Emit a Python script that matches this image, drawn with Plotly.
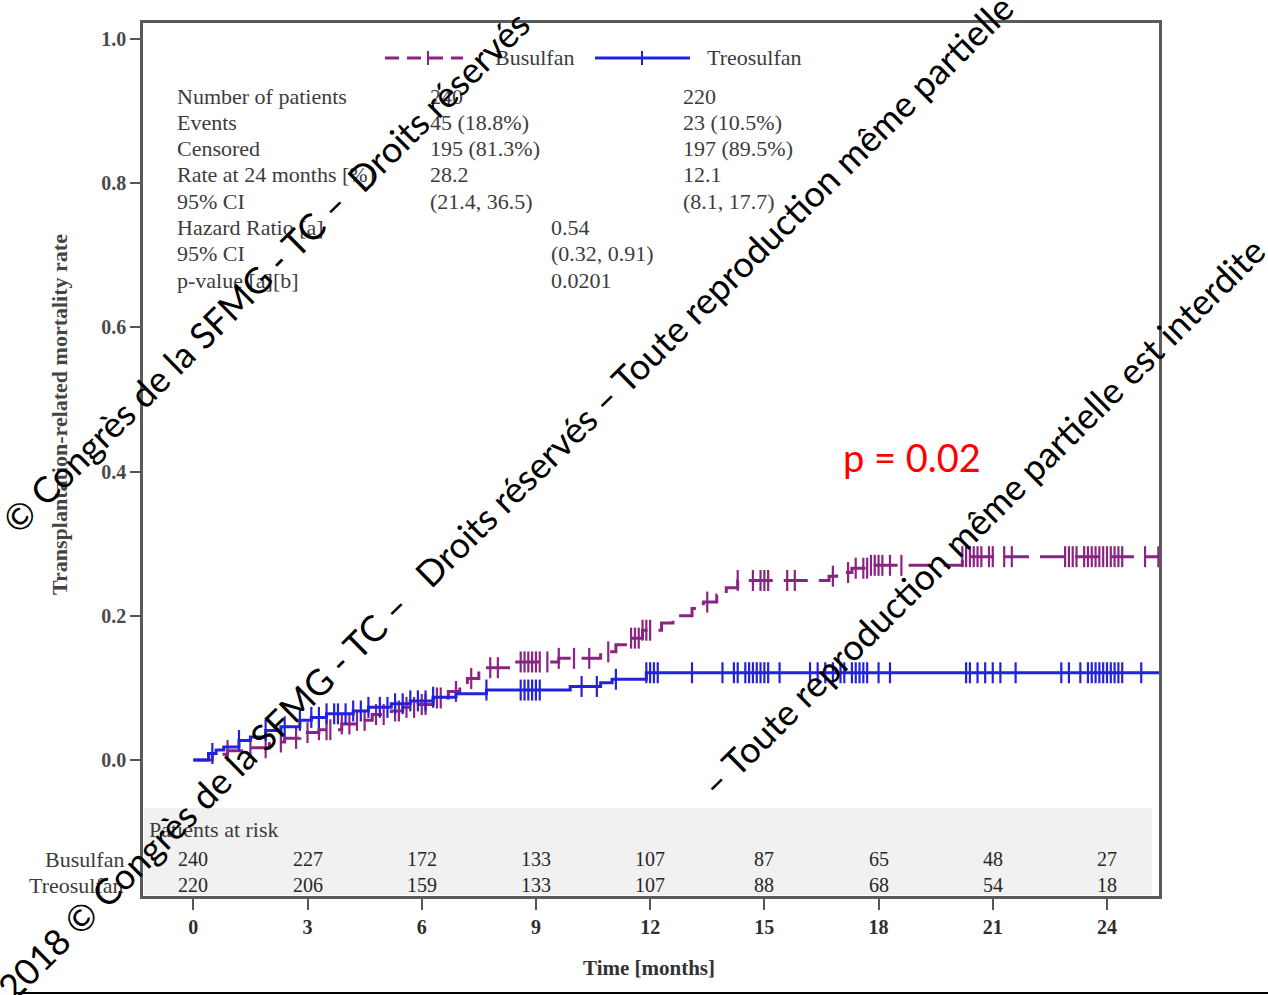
import plotly.graph_objects as go

# ---- Kaplan-Meier style cumulative incidence (transplant-related mortality) ----
months_ticks = [0, 3, 6, 9, 12, 15, 18, 21, 24]

bu_event_t = [0, 0.5, 0.9, 1.4, 2.0, 2.4, 2.8, 3.3, 3.9, 4.3, 4.7, 5.2, 5.5, 5.9, 6.3,
              6.7, 7.0, 7.2, 7.5, 8.4, 9.6, 10.7, 11.1, 11.4, 11.8, 12.3, 12.6, 13.1,
              13.4, 13.75, 14.0, 14.3, 16.7, 16.9, 17.3, 17.8, 20.2]
bu_event_v = [0, 0.008, 0.013, 0.017, 0.025, 0.030, 0.038, 0.042, 0.050, 0.055, 0.063,
              0.068, 0.073, 0.077, 0.086, 0.095, 0.104, 0.113, 0.128, 0.136, 0.141,
              0.150, 0.160, 0.169, 0.180, 0.190, 0.200, 0.210, 0.219, 0.229, 0.239,
              0.249, 0.255, 0.260, 0.266, 0.270, 0.282]
bu_censor_t = [0.9, 1.5, 1.9, 2.3, 2.7, 3.0, 3.3, 3.5, 3.6, 3.9, 4.1, 4.3, 4.5, 4.8, 5.0,
               5.3, 5.4, 5.6, 5.8, 6.0, 6.1, 6.4, 6.5, 6.9, 7.3, 7.8, 8.0, 8.6, 8.7, 8.8,
               8.9, 9.0, 9.1, 9.3, 9.6, 10.0, 10.4, 10.9, 11.5, 11.6, 11.7, 11.8, 11.9,
               12.0, 13.5, 14.3, 14.7, 14.9, 15.0, 15.1, 15.6, 15.8, 16.8, 17.2, 17.4,
               17.6, 17.7, 17.8, 17.9, 18.0, 18.1, 18.3, 18.6, 20.2, 20.3, 20.4, 20.5,
               20.6, 20.7, 20.9, 21.0, 21.3, 21.5, 22.9, 23.0, 23.1, 23.2, 23.4, 23.5,
               23.6, 23.7, 23.8, 23.9, 24.0, 24.1, 24.2, 24.3, 24.4, 25.0, 25.35]
bu_last_t = 25.4

tr_event_t = [0, 0.4, 0.6, 0.8, 1.2, 1.5, 1.9, 2.3, 2.8, 3.1, 3.5, 4.2, 4.6, 5.2, 5.7,
              6.3, 6.9, 7.7, 9.9, 10.7, 11.0, 11.9]
tr_event_v = [0, 0.009, 0.014, 0.018, 0.027, 0.032, 0.041, 0.046, 0.055, 0.059, 0.064,
              0.068, 0.073, 0.078, 0.082, 0.087, 0.092, 0.097, 0.102, 0.107, 0.112, 0.121]
tr_censor_t = [0.5, 1.2, 1.9, 2.4, 2.8, 3.1, 3.3, 3.5, 3.7, 3.8, 4.0, 4.2, 4.4, 4.6, 4.9,
               5.1, 5.3, 5.5, 5.7, 5.9, 6.1, 6.3, 7.7, 8.6, 8.7, 8.8, 8.9, 9.0, 9.1, 10.2,
               10.6, 11.1, 11.9, 12.0, 12.1, 12.2, 13.1, 13.9, 14.2, 14.3, 14.5, 14.6,
               14.7, 14.8, 14.9, 15.0, 15.1, 15.4, 16.2, 16.4, 16.6, 16.8, 17.0, 17.1,
               17.3, 17.4, 17.5, 17.6, 17.7, 18.0, 18.3, 20.3, 20.4, 20.6, 20.8, 21.0,
               21.2, 21.6, 22.8, 23.0, 23.3, 23.5, 23.6, 23.7, 23.8, 23.9, 24.0, 24.1,
               24.2, 24.3, 24.4, 24.9]
tr_last_t = 25.4

# patients at risk
risk_bu = [240, 227, 172, 133, 107, 87, 65, 48, 27]
risk_tr = [220, 206, 159, 133, 107, 88, 68, 54, 18]

# summary table
table_labels = ["Number of patients", "Events", "Censored", "Rate at 24 months [%]",
                "95% CI", "Hazard Ratio [a]", "95% CI", "p-value [a][b]"]
table_bu = ["240", "45 (18.8%)", "195 (81.3%)", "28.2", "(21.4, 36.5)", "", "", ""]
table_hr = ["", "", "", "", "", "0.54", "(0.32, 0.91)", "0.0201"]
table_tr = ["220", "23 (10.5%)", "197 (89.5%)", "12.1", "(8.1, 17.7)", "", "", ""]

BU_COL = "#8B2383"
TR_COL = "#2222DD"
SERIF = "Liberation Serif"
TXT = "#3c3c3c"

W, H = 1268, 995
L, R, T, B = 143, 109, 23, 99
PW, PH = W - L - R, H - T - B


def px(x):
    return (x - L) / PW


def py(y):
    return (H - B - y) / PH


def step_value(times, values, t):
    v = values[0]
    for ti, vi in zip(times, values):
        if ti <= t:
            v = vi
    return v


fig = go.Figure()

for ev_t, ev_v, cen_t, last_t, col, dash, name in [
    (bu_event_t, bu_event_v, bu_censor_t, bu_last_t, BU_COL, "24px,11px", "Busulfan"),
    (tr_event_t, tr_event_v, tr_censor_t, tr_last_t, TR_COL, "solid", "Treosulfan"),
]:
    fig.add_trace(go.Scatter(
        x=ev_t + [last_t], y=ev_v + [ev_v[-1]], mode="lines", name=name,
        line=dict(color=col, width=3, dash=dash, shape="hv"), showlegend=False))
    fig.add_trace(go.Scatter(
        x=cen_t, y=[step_value(ev_t, ev_v, t) for t in cen_t], mode="markers",
        marker=dict(symbol="line-ns", size=15, color=col, line=dict(color=col, width=2.2)),
        showlegend=False, name=name))

shapes = [
    # at-risk band
    dict(type="rect", xref="paper", yref="paper", x0=px(144), x1=px(1152),
         y0=py(895), y1=py(808), fillcolor="#f1f1f1", line=dict(width=0), layer="below"),
    # legend samples
    dict(type="line", xref="paper", yref="paper", x0=px(385), x1=px(463), y0=py(58), y1=py(58),
         line=dict(color=BU_COL, width=3, dash="14px,8px")),
    dict(type="line", xref="paper", yref="paper", x0=px(428), x1=px(428), y0=py(51), y1=py(65),
         line=dict(color=BU_COL, width=2)),
    dict(type="line", xref="paper", yref="paper", x0=px(595), x1=px(690), y0=py(58), y1=py(58),
         line=dict(color=TR_COL, width=3)),
    dict(type="line", xref="paper", yref="paper", x0=px(642), x1=px(642), y0=py(51), y1=py(65),
         line=dict(color=TR_COL, width=2)),
    # rule under the figure
    dict(type="line", xref="paper", yref="paper", x0=px(15), x1=px(1268), y0=py(993), y1=py(993),
         line=dict(color="#000000", width=2)),
]

ann = []


def note(text, x, y, size, xanchor="left", xref="paper", color=TXT, **kw):
    font = dict(family=kw.pop("family", SERIF), size=size, color=color)
    if "weight" in kw:
        font["weight"] = kw.pop("weight")
    ann.append(dict(text=text, x=x, y=y, xref=xref, yref="paper", showarrow=False,
                    xanchor=xanchor, yanchor="middle", font=font, **kw))


note("Busulfan", px(493), py(58), 22)
note("Treosulfan", px(705), py(58), 22)

row_y0, row_dy = 96, 26.3
for i in range(len(table_labels)):
    yy = py(row_y0 + i * row_dy)
    for txt, xx in [(table_labels[i], 175), (table_bu[i], 428), (table_hr[i], 549), (table_tr[i], 681)]:
        if txt:
            note(txt, px(xx), yy, 22)

note("Patients at risk", px(147), py(829), 22)
note("Busulfan", px(126), py(859), 22, xanchor="right")
note("Treosulfan", px(126), py(885), 22, xanchor="right")
for m, nb, nt in zip(months_ticks, risk_bu, risk_tr):
    note(str(nb), m, py(859), 20, xanchor="center", xref="x", color="#262626")
    note(str(nt), m, py(885), 20, xanchor="center", xref="x", color="#262626")

note("Transplantation-related mortality rate", px(60), py(415), 22, xanchor="center",
     color="#444444", weight="bold", textangle=-90)
note("Time [months]", px(649), py(968), 21, xanchor="center", color="#333333", weight="bold")
note("p = 0.02", px(912), py(457), 38, xanchor="center", color="#FF0000", family="Lato")

# copyright overlay
NB = "\u00a0"
marks = [
    ("© Congrès de la SFMG - TC –" + NB * 2 + "Droits réservés", 265, 272),
    ("2018 © Congrès de la SFMG - TC –" + NB * 3 + "Droits réservés – Toute reproduction même partielle", 505, 497),
    ("– Toute reproduction même partielle est interdite", 982, 517),
]
for txt, cx, cy in marks:
    note(txt, px(cx), py(cy), 36, xanchor="center", color="#000000", family="Lato",
         textangle=-44.7)

x0_px, x_scale = 193.3, 38.07
y0_px, y_scale = 760, 721

fig.update_layout(
    width=W, height=H, margin=dict(l=L, r=R, t=T, b=B),
    paper_bgcolor="white", plot_bgcolor="white",
    shapes=shapes, annotations=ann,
    xaxis=dict(range=[(L - x0_px) / x_scale, (W - R - x0_px) / x_scale],
               tickvals=months_ticks, ticks="outside", ticklen=11, tickwidth=2,
               tickcolor="#555555", showline=True, mirror=True, linecolor="#5a5a5a",
               linewidth=2.5, showgrid=False, zeroline=False,
               tickfont=dict(family=SERIF, size=20, color="#2e2e2e", weight="bold")),
    yaxis=dict(range=[(y0_px - (H - B)) / y_scale, (y0_px - T) / y_scale],
               tickvals=[0, 0.2, 0.4, 0.6, 0.8, 1.0], ticktext=["0.0", "0.2", "0.4", "0.6", "0.8", "1.0"],
               ticks="outside", ticklen=10, tickwidth=2, tickcolor="#555555",
               showline=True, mirror=True, linecolor="#5a5a5a", linewidth=2.5,
               showgrid=False, zeroline=False,
               tickfont=dict(family=SERIF, size=20, color="#4a4a4a", weight="bold")),
)

fig.write_html("out.html")
